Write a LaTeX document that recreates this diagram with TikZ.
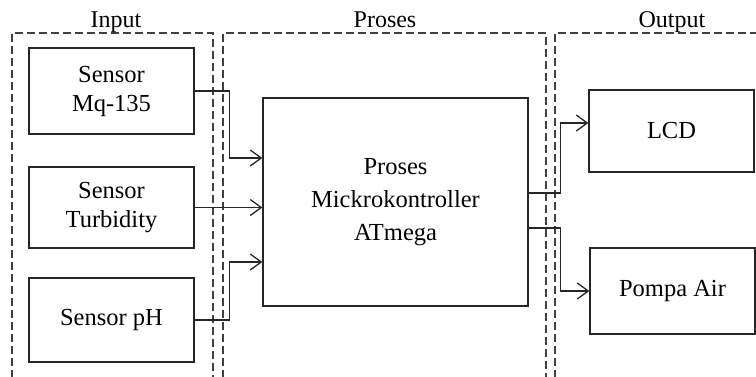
\documentclass[tikz,border=0pt]{standalone}
\usepackage{fontspec}
\setmainfont{Liberation Serif}
\usetikzlibrary{arrows.meta,calc}
\begin{document}
\begin{tikzpicture}[x=1pt,y=-1pt,
  box/.style={draw=black!85,line width=1.3pt,align=center,inner sep=0pt,font=\fontsize{24.5}{29}\selectfont},
  grp/.style={draw=black!75,line width=1.2pt,dash pattern=on 8pt off 4pt},
  lbl/.style={font=\fontsize{24}{27}\selectfont,inner sep=0pt,anchor=base},
  arr/.style={draw=black!85,line width=1.3pt,-{Straight Barb[length=11pt,width=16pt,line width=1.3pt]}}]
\useasboundingbox (0,0) rectangle (756,376);
\fill[white] (0,0) rectangle (756,376);
% groups
\draw[grp] (12,390) -- (12,33) -- (213,33) -- (213,390);
\draw[grp] (223,390) -- (223,33) -- (546,33) -- (546,390);
\draw[grp] (555,390) -- (555,33) -- (770,33);
\node[lbl] (tin) at (116,27) {Input};
\node[lbl] (tpr) at (385,27) {Proses};
\node[lbl] (tout) at (672,27) {Output};
% nodes
\node[box,minimum width=165pt,minimum height=86pt] (mq) at (111.5,91) {Sensor\\Mq-135};
\node[box,minimum width=165pt,minimum height=81pt] (turb) at (111.5,207.5) {Sensor\\Turbidity};
\node[box,minimum width=165pt,minimum height=84pt] (ph) at (111.5,320) {Sensor pH};
\node[box,minimum width=265pt,minimum height=208pt,font=\fontsize{24.5}{33}\selectfont] (proc) at (395.5,202) {Proses\\Mickrokontroller\\ATmega};
\node[box,minimum width=165pt,minimum height=82pt] (lcd) at (671.5,131) {LCD};
\node[box,minimum width=165pt,minimum height=86pt] (pompa) at (672.5,291) {Pompa Air};
% coordinates
\coordinate (mqin) at ($(proc.west)+(0,-44)$);
\coordinate (phin) at ($(proc.west)+(0,60)$);
\coordinate (o1) at ($(proc.east)+(0,-9)$);
\coordinate (o2) at ($(proc.east)+(0,26)$);
\coordinate (lcdin) at ($(lcd.west)+(0,-8)$);
% connectors
\draw[arr] (mq.east) -- ++(35,0) |- (mqin);
\draw[arr] (turb.east) -- (turb.east -| proc.west);
\draw[arr] (ph.east) -- ++(35,0) |- (phin);
\draw[arr] (o1) -- ++(32,0) |- (lcdin);
\draw[arr] (o2) -- ++(32,0) |- (pompa.west);
\end{tikzpicture}
\end{document}
